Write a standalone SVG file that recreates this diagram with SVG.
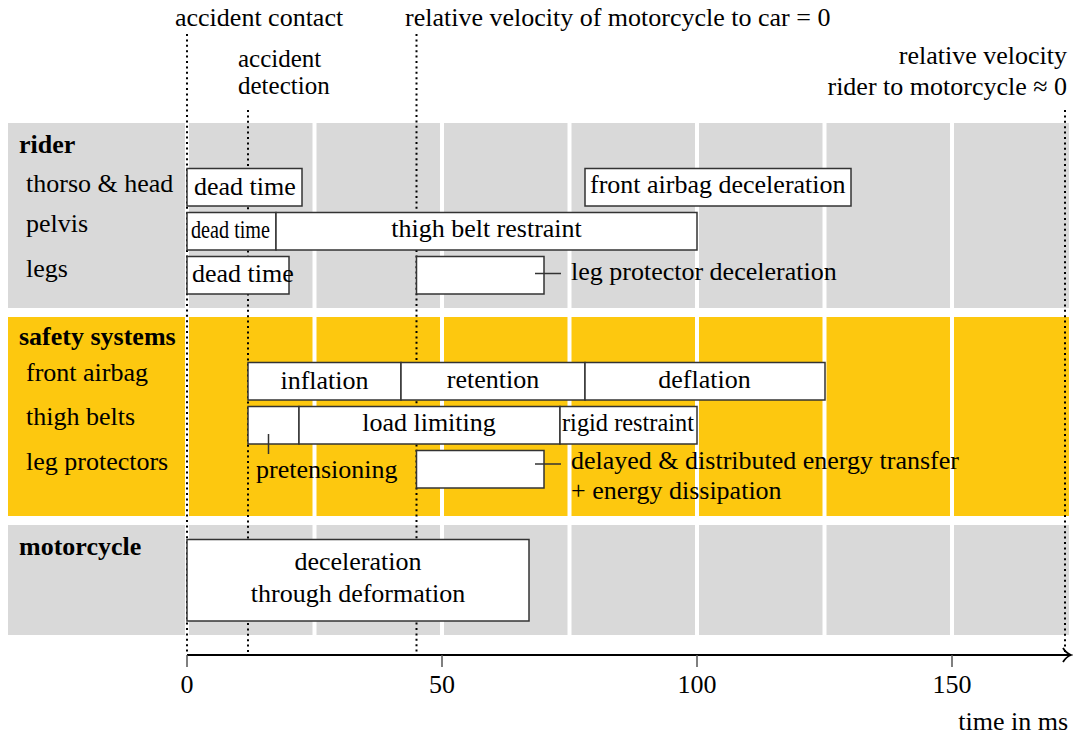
<svg xmlns="http://www.w3.org/2000/svg" width="1076" height="738" viewBox="0 0 1076 738" font-family="'Liberation Serif','Times New Roman','DejaVu Serif',serif">
<style>
text{font-family:"Liberation Serif","Times New Roman","DejaVu Serif",serif;font-size:26px;fill:#000}
.b{font-weight:bold}
.m{text-anchor:middle}
.e{text-anchor:end}
.s{font-size:25px}
.box{fill:#fff;stroke:#333;stroke-width:1.5}
.dot{stroke:#000;stroke-width:2;stroke-dasharray:2 3.4;fill:none}
.gap{stroke:#fff;stroke-width:4}
.lead{stroke:#333;stroke-width:1.5;fill:none}
.tick{stroke:#555;stroke-width:1.5}
</style>
<defs>
<marker id="arr" markerWidth="12" markerHeight="16" refX="9" refY="8" orient="auto" markerUnits="userSpaceOnUse">
<path d="M2,1 Q5,6 10,8 Q5,10 2,15" fill="none" stroke="#000" stroke-width="1.8"/>
</marker>
</defs>
<rect width="1076" height="738" fill="#fff"/>
<g id="bands">
<rect x="8" y="123" width="1061" height="185" fill="#d9d9d9"/>
<rect x="8" y="317" width="1061" height="199" fill="#fdc80f"/>
<rect x="8" y="525" width="1061" height="110" fill="#d9d9d9"/>
<g class="gap">
<line x1="187" y1="118" x2="187" y2="640"/>
<line x1="314.5" y1="118" x2="314.5" y2="640"/>
<line x1="442" y1="118" x2="442" y2="640"/>
<line x1="569.5" y1="118" x2="569.5" y2="640"/>
<line x1="697" y1="118" x2="697" y2="640"/>
<line x1="824.5" y1="118" x2="824.5" y2="640"/>
<line x1="952" y1="118" x2="952" y2="640"/>
</g>
</g>
<g id="markers">
<line class="dot" x1="187" y1="34" x2="187" y2="654"/>
<line class="dot" x1="248" y1="110" x2="248" y2="654"/>
<line class="dot" x1="416.5" y1="34" x2="416.5" y2="654"/>
<line class="dot" x1="1065" y1="110" x2="1065" y2="654"/>
<text x="175" y="26">accident contact</text>
<text x="405" y="26">relative velocity of motorcycle to car = 0</text>
<text class="s" x="238" y="67">accident</text>
<text class="s" x="238" y="94">detection</text>
<text class="e" x="1067" y="64">relative velocity</text>
<text class="e" x="1067" y="95">rider to motorcycle ≈ 0</text>
</g>
<g id="rider">
<text class="b" x="19" y="153">rider</text>
<text x="26" y="192">thorso &amp; head</text>
<text x="26" y="232">pelvis</text>
<text x="26" y="277">legs</text>
<g id="rider-thorso-dead"><rect class="box" x="187" y="168.5" width="115" height="37.5"/><text x="194" y="195">dead time</text></g>
<g id="rider-airbag-decel"><rect class="box" x="585" y="168.5" width="266" height="37.5"/><text x="590" y="193">front airbag deceleration</text></g>
<g id="rider-pelvis-dead"><rect class="box" x="187" y="212.5" width="89" height="37.5"/><text x="191" y="238" textLength="79" lengthAdjust="spacingAndGlyphs">dead time</text></g>
<g id="rider-thigh"><rect class="box" x="276" y="212.5" width="421" height="37.5"/><text class="m" x="486.5" y="237">thigh belt restraint</text></g>
<g id="rider-legs-dead"><rect class="box" x="187" y="256.5" width="102" height="37.5"/><text x="192" y="282">dead time</text></g>
<g id="rider-legprot"><rect class="box" x="416.5" y="256.5" width="127.5" height="37.5"/><text x="571" y="280">leg protector deceleration</text></g>
</g>
<g id="safety">
<text class="b" x="19" y="345">safety systems</text>
<text x="26" y="381">front airbag</text>
<text x="26" y="425">thigh belts</text>
<text x="26" y="470">leg protectors</text>
<g id="inflation"><rect class="box" x="248" y="362.5" width="153" height="37.5"/><text class="m" x="324.5" y="389">inflation</text></g>
<g id="retention"><rect class="box" x="401" y="362.5" width="184" height="37.5"/><text class="m" x="493" y="388">retention</text></g>
<g id="deflation"><rect class="box" x="585" y="362.5" width="240" height="37.5"/><text class="m" x="704.5" y="388">deflation</text></g>
<g id="pretension"><rect class="box" x="248" y="406.5" width="51" height="37.5"/><text x="256" y="478">pretensioning</text></g>
<g id="loadlimit"><rect class="box" x="299" y="406.5" width="261" height="37.5"/><text class="m" x="429" y="431">load limiting</text></g>
<g id="rigid"><rect class="box" x="560" y="406.5" width="137" height="37.5"/><text x="562" y="431" textLength="132" lengthAdjust="spacingAndGlyphs">rigid restraint</text></g>
<g id="legprot-sys"><rect class="box" x="416.5" y="450.5" width="127.5" height="37.5"/><text x="571" y="469">delayed &amp; distributed energy transfer</text><text x="571" y="499">+ energy dissipation</text></g>
</g>
<g id="motorcycle">
<text class="b" x="19" y="555">motorcycle</text>
<g id="moto-decel"><rect class="box" x="187" y="539.5" width="342" height="81.5"/><text class="m" x="358" y="570">deceleration</text><text class="m" x="358" y="602">through deformation</text></g>
</g>
<g id="connectors">
<line class="lead" x1="535" y1="273.5" x2="561" y2="273.5"/>
<line class="lead" x1="268.5" y1="434" x2="268.5" y2="454"/>
<line class="lead" x1="535" y1="464" x2="561" y2="464"/>
</g>
<g id="axis">
<line x1="187" y1="655" x2="1070" y2="655" stroke="#000" stroke-width="2" marker-end="url(#arr)"/>
<line class="tick" x1="187" y1="655" x2="187" y2="667"/>
<line class="tick" x1="442" y1="655" x2="442" y2="667"/>
<line class="tick" x1="697" y1="655" x2="697" y2="667"/>
<line class="tick" x1="952" y1="655" x2="952" y2="667"/>
<text class="m" x="187" y="693">0</text>
<text class="m" x="442" y="693">50</text>
<text class="m" x="697" y="693">100</text>
<text class="m" x="952" y="693">150</text>
<text class="e" x="1068" y="730">time in ms</text>
</g>
</svg>
